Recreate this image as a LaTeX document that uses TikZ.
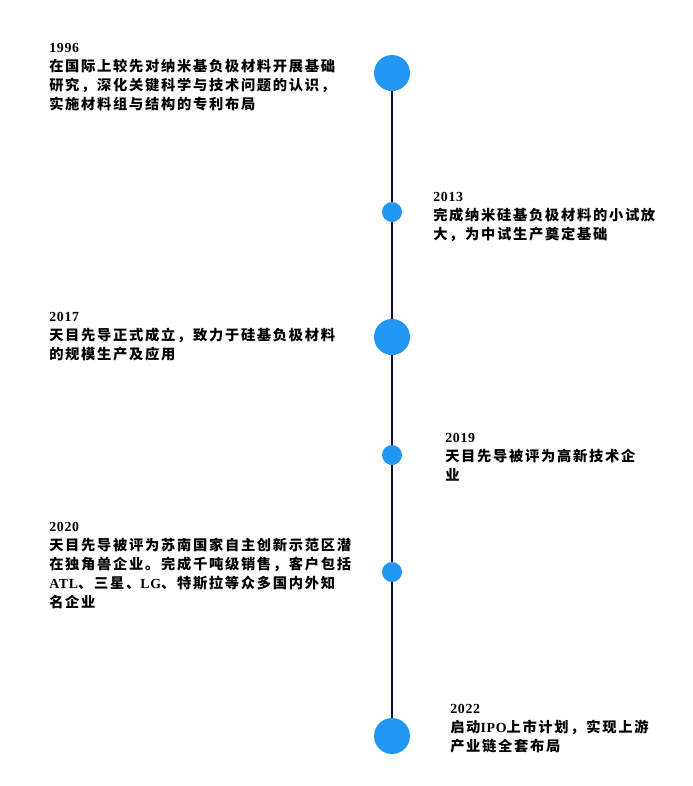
\documentclass[tikz,border=0pt]{standalone}
\usepackage{fontspec}
\usepackage{tikz}
\newfontfamily\cjk[LetterSpace=12]{Noto Sans CJK SC}
\newfontfamily\yr[LetterSpace=5]{Liberation Serif}
\newcommand{\lat}[1]{{\yr\bfseries\fontsize{10.4pt}{14.2pt}\selectfont #1}}
\definecolor{dotblue}{HTML}{2196F3}
\definecolor{axisnavy}{HTML}{0D0D2B}

\begin{document}
\begin{tikzpicture}[x=0.75pt, y=-0.75pt,
	big/.style={circle, fill=dotblue, inner sep=0, minimum size=27pt},
	small/.style={circle, fill=dotblue, inner sep=0, minimum size=15pt},
	event/.style={anchor=north west, align=left, inner sep=0,
		font=\cjk\bfseries\fontsize{10.7pt}{14.2pt}\selectfont}]
			\useasboundingbox (0,0) rectangle (693,786);
			\coordinate (top) at (392,73);
			\coordinate (bottom) at (392,736);
			\draw[axisnavy, line width=1.5pt] (top) -- (bottom);
			\node[big] (c1996) at (392,73) {};
			\node[small] (c2013) at (392,212) {};
			\node[big] (c2017) at (392,337) {};
			\node[small] (c2019) at (392,455) {};
			\node[small] (c2020) at (392,572) {};
			\node[big] (c2022) at (392,736) {};
			\node[event] (t1996) at (49,43) {\lat{1996}\\
				在国际上较先对纳米基负极材料开展基础\\
				研究，深化关键科学与技术问题的认识，\\
				实施材料组与结构的专利布局};
			\node[event] (t2013) at (433,192) {\lat{2013}\\
				完成纳米硅基负极材料的小试放\\
				大，为中试生产奠定基础};
			\node[event] (t2017) at (49,312) {\lat{2017}\\
				天目先导正式成立，致力于硅基负极材料\\
				的规模生产及应用};
			\node[event] (t2019) at (445,433) {\lat{2019}\\
				天目先导被评为高新技术企\\
				业};
			\node[event] (t2020) at (49,522) {\lat{2020}\\
				天目先导被评为苏南国家自主创新示范区潜\\
				在独角兽企业。完成千吨级销售，客户包括\\
				\lat{ATL}、三星、\lat{LG}、特斯拉等众多国内外知\\
				名企业};
			\node[event] (t2022) at (450,704) {\lat{2022}\\
				启动\lat{IPO}上市计划，实现上游\\
				产业链全套布局};
\end{tikzpicture}
\end{document}
